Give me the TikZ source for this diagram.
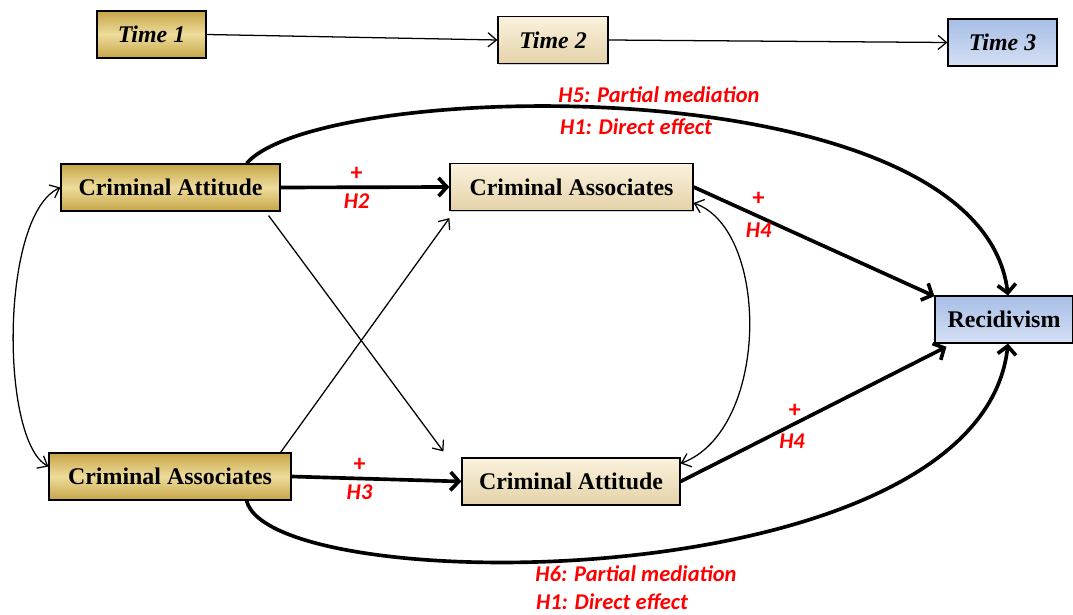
\documentclass[tikz,border=0pt]{standalone}
\usepackage{fontspec}
\setmainfont{Liberation Serif}
\newfontfamily\hypfont{Carlito}
\usetikzlibrary{arrows.meta,shadows}

\definecolor{goldD}{HTML}{C6A547}
\definecolor{goldL}{HTML}{EEDC9C}
\definecolor{creamD}{HTML}{E4D2A8}
\definecolor{creamL}{HTML}{FBF2DE}
\definecolor{blueD}{HTML}{A7BEE6}
\definecolor{blueL}{HTML}{D5E0F4}
\definecolor{hypred}{HTML}{FF0000}

\begin{document}
\begin{tikzpicture}[x=0.025cm, y=-0.025cm, box/.style={draw, line width=0.8pt, inner sep=0pt, minimum height=1.175cm, font=\fontsize{17}{20}\selectfont\bfseries, drop shadow={shadow xshift=0.8pt, shadow yshift=-0.8pt, opacity=0.35}}, gold/.style={box, top color=goldD, bottom color=goldD, middle color=goldL}, cream/.style={box, top color=creamL, bottom color=creamD}, blue/.style={box, top color=blueD, bottom color=blueL}, hyp/.style={text=hypred, font=\hypfont\fontsize{16}{19}\selectfont\bfseries\itshape}, plus/.style={text=hypred, font=\hypfont\fontsize{17}{19}\selectfont\bfseries}, n/.style={line width=0.9pt, -{Straight Barb[length=6pt, width=10pt]}}, dbl/.style={line width=0.9pt, {Straight Barb[length=6pt, width=10pt]}-{Straight Barb[length=6pt, width=10pt]}}, heavy/.style={line width=2.6pt, -{Straight Barb[length=6pt, width=13pt]}}]
            \useasboundingbox (0,0) rectangle (1073,615);
            % nodes
            \node[gold, minimum width=2.725cm] (time1) at (151.5,34.5) {\itshape Time 1};
            \node[cream, minimum width=2.75cm] (time2) at (553,40) {\itshape Time 2};
            \node[blue, minimum width=2.725cm] (time3) at (1002.5,42.5) {\itshape Time 3};

            \node[gold, minimum width=5.475cm] (att1) at (170.5,187.5) {Criminal Attitude};
            \node[gold, minimum width=6.05cm] (ass1) at (170,476.5) {Criminal Associates};

            \node[cream, minimum width=6.075cm] (ass2) at (571.5,187) {Criminal Associates};
            \node[cream, minimum width=5.45cm] (att2) at (571,481.5) {Criminal Attitude};

            \node[blue, minimum width=3.45cm] (recid) at (1004,319.5) {Recidivism};

            \node[hyp] (h5) at (659,95) {H5: Partial mediation};
            \node[hyp] (h1a) at (636,127) {H1: Direct effect};
            \node[hyp] (h6) at (636,574) {H6: Partial mediation};
            \node[hyp] (h1b) at (612,602) {H1: Direct effect};
            % edges
            \draw[n] (time1.east) -- (time2.west);
            \draw[n] (time2.east) -- (time3.west);

            \draw[heavy] (att1.east) -- (ass2.west) node[plus, above, pos=0.45] (p2) {+} node[hyp, below, pos=0.45] (h2) {H2};
            \draw[heavy] (ass1.east) -- (att2.west) node[plus, above, pos=0.4] (p3) {+} node[hyp, below, pos=0.4] (h3) {H3};

            \draw[n] ([xshift=-0.3cm, yshift=-0.1cm]att1.south east) -- ([xshift=-0.45cm, yshift=0.15cm]att2.north west);
            \draw[n] ([xshift=-0.275cm]ass1.north east) -- ([yshift=-0.175cm]ass2.south west);

            \draw[heavy] (ass2.east) -- ([yshift=-0.02cm]recid.north west) node[plus, above, pos=0.27, yshift=3pt] (p4a) {+} node[hyp, below, pos=0.27] (h4a) {H4};
            \draw[heavy] (att2.east) -- ([xshift=0.3cm, yshift=-0.08cm]recid.south west) node[plus, above, pos=0.43] (p4b) {+} node[hyp, below, pos=0.43, xshift=-2pt, yshift=-3pt] (h4b) {H4};

            \draw[dbl] (att1.west) .. controls (0,215) and (0,440) .. ([yshift=0.25cm]ass1.west);
            \draw[dbl] ([yshift=-0.4cm]ass2.east) .. controls (770,230) and (770,430) .. ([yshift=0.45cm]att2.east);

            \draw[heavy] ([xshift=-0.85cm]att1.north east) .. controls (320,78) and (980,64) .. ([xshift=0.1cm]recid.north);
            \draw[heavy] ([xshift=-1.125cm]ass1.south east) .. controls (270,600) and (980,600) .. ([xshift=0.1cm]recid.south);
        \end{tikzpicture}
\end{document}
